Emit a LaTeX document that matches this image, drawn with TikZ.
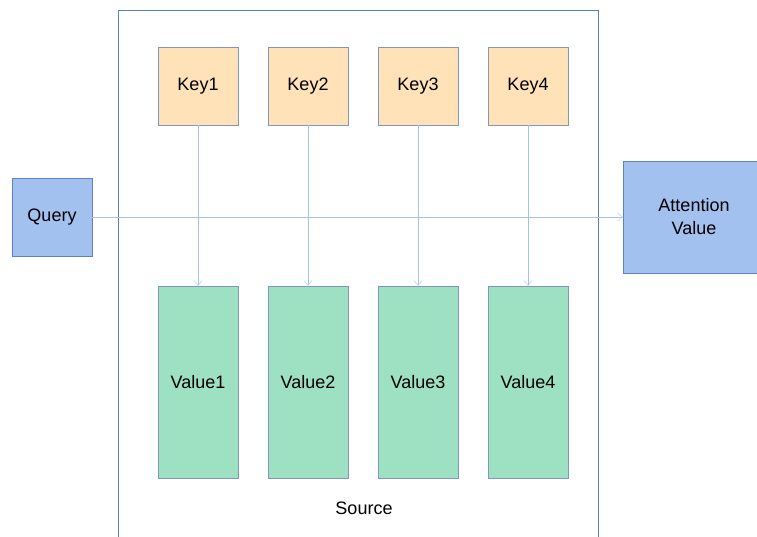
\documentclass[tikz,border=0pt]{standalone}
\usepackage{fontspec}
\setmainfont{Liberation Sans}
\usetikzlibrary{arrows.meta}
\definecolor{keyfill}{HTML}{FFE2B8}
\definecolor{valfill}{HTML}{9EE0C2}
\definecolor{qfill}{HTML}{A3C1EF}
\definecolor{boxline}{HTML}{7E97BD}
\definecolor{qline}{HTML}{5A82C4}
\definecolor{srcline}{HTML}{5B7DB8}
\definecolor{linkline}{HTML}{A6C2EC}
\tikzset{
  keybox/.style={rectangle, draw=boxline, fill=keyfill, minimum width=80pt, minimum height=78pt, inner sep=0pt, font=\fontsize{18}{22}\selectfont},
  valbox/.style={rectangle, draw=boxline, fill=valfill, minimum width=80pt, minimum height=192pt, inner sep=0pt, font=\fontsize{18}{22}\selectfont},
  qbox/.style={rectangle, draw=qline, fill=qfill, inner sep=0pt, align=center, font=\fontsize{18}{23}\selectfont},
  link/.style={draw=linkline, -{Straight Barb[length=5pt,width=8pt]}}
}
\begin{document}
\begin{tikzpicture}[x=1pt, y=-1pt]
  \useasboundingbox (0,0) rectangle (757,536);

  % Source frame
  \draw[srcline, thick] (118,10) rectangle (598,560);
  \node[font=\fontsize{18}{22}\selectfont] (src) at (364,508) {Source};

  % Keys and values
  \foreach \i/\x in {1/198, 2/308, 3/418, 4/528} {
    \node[keybox] (key\i) at (\x,86) {Key\i};
    \node[valbox] (val\i) at (\x,382) {Value\i};
    \draw[link] (key\i) -- (val\i);
  }

  % Query and attention value
  \node[qbox, minimum width=80pt, minimum height=78pt] (query) at (52,217) {Query};
  \node[qbox, minimum width=142pt, minimum height=112pt] (att) at (694,217) {Attention\\Value};
  \draw[link] (query) -- (att);
\end{tikzpicture}
\end{document}
